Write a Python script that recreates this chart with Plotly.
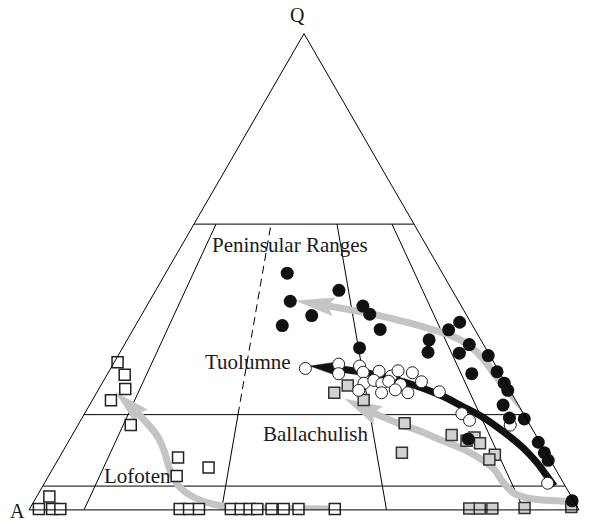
import math

import plotly.graph_objects as go

# QAP field boundaries (Streckeisen)
q_levels = [5, 20, 60]
p_ratios = [10, 35, 65, 90]  # 100*P/(A+P), drawn from base up to Q=60
dashed_ratio = 35  # this one is dashed above Q=20

# samples, Q and P in %, A = 100 - Q - P
pen_q = [49.7, 46.1, 43.8, 40.8, 38.7, 42.8, 41.1, 37.9, 34.0, 35.7, 33.1, 37.8, 39.4, 34.7,
         32.9, 32.4, 28.6, 29.0, 26.6, 25.1, 22.0, 19.3, 19.1, 14.2, 12.0, 10.4, 1.9, 14.9]
pen_p = [22.1, 33.3, 25.6, 31.0, 26.7, 39.3, 41.4, 44.9, 43.1, 54.9, 56.0, 57.4, 58.6, 62.7,
         61.8, 67.3, 66.2, 70.6, 73.1, 74.5, 75.2, 77.7, 80.5, 85.5, 87.7, 89.2, 97.8, 72.4]

tuo_q = [29.7, 30.6, 28.6, 30.2, 28.9, 29.1, 28.1, 29.2, 28.8, 26.6, 27.2, 26.5, 27.0, 26.3,
         26.9, 25.1, 24.6, 25.2, 24.6, 24.8, 20.2, 18.8, 17.8, 5.6]
tuo_p = [35.4, 41.0, 42.0, 45.0, 46.3, 49.1, 51.8, 52.5, 55.3, 47.6, 49.1, 50.9, 51.9, 54.4,
         57.9, 47.4, 51.8, 54.0, 56.6, 62.2, 68.6, 70.7, 78.6, 91.5]

bal_q = [24.6, 26.1, 23.1, 18.2, 15.7, 12.0, 14.5, 15.2, 14.0, 11.6, 10.6, 0.3, 0.3, 0.3, 0.4, 0.6]
bal_p = [43.2, 44.9, 49.3, 59.2, 69.0, 61.8, 72.3, 73.4, 75.0, 78.9, 78.4, 79.9, 81.8, 84.1, 89.9, 98.3]

lof_q = [31.0, 28.4, 25.4, 23.0, 17.8, 11.0, 8.9, 7.1, 2.8, 0.2, 0.2, 0.2, 0.2, 0.2, 0.2,
         0.2, 0.2, 0.2, 0.2, 0.2, 0.2, 0.2, 0.2]
lof_p = [0.6, 3.2, 4.8, 3.4, 9.6, 21.6, 28.2, 23.3, 2.3, 1.7, 4.1, 5.6, 27.3, 29.0, 30.8,
         36.6, 38.4, 40.0, 41.4, 44.0, 46.2, 48.9, 55.5]

# trend arrows, last point is the arrow tip
pen_trend_q = [2.3, 5.4, 10.0, 14.4, 18.3, 21.2, 24.3, 28.1, 31.8, 34.5, 36.4, 37.8, 39.3, 40.8, 42.6, 43.9]
pen_trend_p = [98.5, 95.5, 91.1, 86.6, 82.7, 79.3, 75.4, 70.8, 66.6, 62.8, 58.9, 54.6, 49.3, 43.3, 34.3, 26.6]

tuo_trend_q = [5.0, 7.3, 10.0, 12.9, 15.4, 17.7, 19.8, 21.8, 23.9, 25.6, 27.0, 28.1, 29.1, 29.7, 30.2]
tuo_trend_p = [93.0, 90.4, 87.3, 83.5, 79.7, 75.9, 72.1, 67.8, 63.2, 58.7, 54.3, 50.2, 45.1, 40.8, 36.0]

bal_trend_q = [1.7, 1.9, 2.1, 2.7, 3.7, 5.8, 8.7, 11.0, 12.9, 14.6, 16.4, 17.9, 19.5, 23.3]
bal_trend_p = [97.9, 94.9, 92.0, 88.6, 86.1, 83.3, 80.1, 76.2, 72.2, 67.7, 63.2, 58.8, 54.3, 45.8]

lof_trend_q = [0.2, 0.3, 0.4, 0.7, 1.7, 3.1, 5.2, 8.3, 12.1, 15.4, 18.5, 24.7]
lof_trend_p = [54.6, 47.3, 39.9, 35.2, 31.1, 27.7, 24.5, 21.5, 18.6, 15.7, 12.2, 3.4]

SERIF = "Liberation Serif"
GREY = "#c4c4c4"
S3 = math.sqrt(3) / 2
# page body has an 8px margin, so the figure is drawn 8px in from the window corner
OFF = 8
W, H = 597 - OFF, 523 - OFF


def a_of(qs, ps):
    return [None if q is None else 100 - q - p for q, p in zip(qs, ps)]


def to_xy(q, p):
    return p + q / 2, q * S3


def to_qp(x, y):
    q = y / S3
    return q, x - q / 2


def arrow_parts(qs, ps, length, width, notch):
    x1, y1 = to_xy(qs[-2], ps[-2])
    x2, y2 = to_xy(qs[-1], ps[-1])
    d = math.hypot(x2 - x1, y2 - y1)
    ux, uy = (x2 - x1) / d, (y2 - y1) / d
    nx, ny = -uy, ux
    bx, by = x2 - length * ux, y2 - length * uy
    kx, ky = x2 - (1 - notch) * length * ux, y2 - (1 - notch) * length * uy
    pts = [(x2, y2), (bx + nx * width / 2, by + ny * width / 2), (kx, ky),
           (bx - nx * width / 2, by - ny * width / 2), (x2, y2)]
    head = [to_qp(x, y) for x, y in pts]
    neck = to_qp(kx, ky)
    return head, neck


fig = go.Figure()

# field boundaries
fq, fp = [], []
for q in q_levels:
    fq += [q, q, None]
    fp += [0, 100 - q, None]
dq, dp = [], []
for r in p_ratios:
    top = 20 if r == dashed_ratio else 60
    fq += [0, top, None]
    fp += [r, (100 - top) * r / 100, None]
    if r == dashed_ratio:
        dq += [20, 60]
        dp += [80 * r / 100, 40 * r / 100]
fig.add_trace(go.Scatterternary(a=fq, b=a_of(fq, fp), c=fp, mode="lines",
                                line=dict(color="black", width=1), hoverinfo="skip"))
fig.add_trace(go.Scatterternary(a=dq, b=a_of(dq, dp), c=dp, mode="lines",
                                line=dict(color="black", width=1, dash="8px,5px"), hoverinfo="skip"))

# trend arrows
trends = [
    (pen_trend_q, pen_trend_p, GREY, 6.9, 3.3, 0.15),
    (bal_trend_q, bal_trend_p, GREY, 6.7, 3.6, 0.15),
    (lof_trend_q, lof_trend_p, GREY, 6.4, 3.3, 0.15),
    (tuo_trend_q, tuo_trend_p, "#111111", 4.6, 2.3, 0.0),
]
for tq, tp, col, length, width, notch in trends:
    head, neck = arrow_parts(tq, tp, length, width, notch)
    lq = tq[:-2] + [neck[0]]
    lp = tp[:-2] + [neck[1]]
    fig.add_trace(go.Scatterternary(a=lq, b=a_of(lq, lp), c=lp, mode="lines",
                                    line=dict(color=col, width=7, shape="spline"),
                                    cliponaxis=False, hoverinfo="skip"))
    hq = [h[0] for h in head]
    hp = [h[1] for h in head]
    fig.add_trace(go.Scatterternary(a=hq, b=a_of(hq, hp), c=hp, mode="lines", fill="toself",
                                    fillcolor=col, line=dict(color=col, width=0.5),
                                    cliponaxis=False, hoverinfo="skip"))

# samples
fig.add_trace(go.Scatterternary(a=lof_q, b=a_of(lof_q, lof_p), c=lof_p, mode="markers",
                                marker=dict(symbol="square", size=11, color="white",
                                            line=dict(color="#222222", width=1.5)),
                                cliponaxis=False))
fig.add_trace(go.Scatterternary(a=bal_q, b=a_of(bal_q, bal_p), c=bal_p, mode="markers",
                                marker=dict(symbol="square", size=11, color="#d2d2d2",
                                            line=dict(color="#333333", width=1.5)),
                                cliponaxis=False))
fig.add_trace(go.Scatterternary(a=tuo_q, b=a_of(tuo_q, tuo_p), c=tuo_p, mode="markers",
                                marker=dict(symbol="circle", size=12, color="white",
                                            line=dict(color="#222222", width=1)),
                                cliponaxis=False))
fig.add_trace(go.Scatterternary(a=pen_q, b=a_of(pen_q, pen_p), c=pen_p, mode="markers",
                                marker=dict(symbol="circle", size=13, color="#111111",
                                            line=dict(width=0)),
                                cliponaxis=False))

axis = dict(showticklabels=False, ticks="", showgrid=False, linecolor="black",
            linewidth=1, title=dict(text=""))

# label positions in window pixels
labels = [
    ("Q", 297.5, 15, "center", 20),
    ("A", 17, 511, "center", 20),
    ("P", 589, 511, "left", 20),
    ("Peninsular Ranges", 289.5, 245, "center", 21),
    ("Tuolumne", 293, 362, "right", 21),
    ("Ballachulish", 315, 434, "center", 21),
    ("Lofoten", 137, 476, "center", 21),
]
annotations = [
    dict(text=t, x=(x - OFF) / W, y=1 - (y - OFF) / H, xref="paper", yref="paper", xanchor=xa,
         yanchor="middle", showarrow=False, font=dict(family=SERIF, size=s, color="#1a1a1a"))
    for t, x, y, xa, s in labels
]

# triangle: base from x=29 to x=579 at y=510 (window pixels)
tri_w = 550
tri_h = tri_w * S3
fig.update_layout(
    width=W, height=H,
    margin=dict(l=0, r=0, t=0, b=0),
    paper_bgcolor="white",
    showlegend=False,
    ternary=dict(
        sum=100,
        bgcolor="white",
        domain=dict(x=[(29 - OFF) / W, (29 - OFF + tri_w) / W],
                    y=[(523 - 510) / H, (523 - 510 + tri_h + 0.2) / H]),
        aaxis=axis, baxis=axis, caxis=axis,
    ),
    annotations=annotations,
)

fig.write_html("out.html")
